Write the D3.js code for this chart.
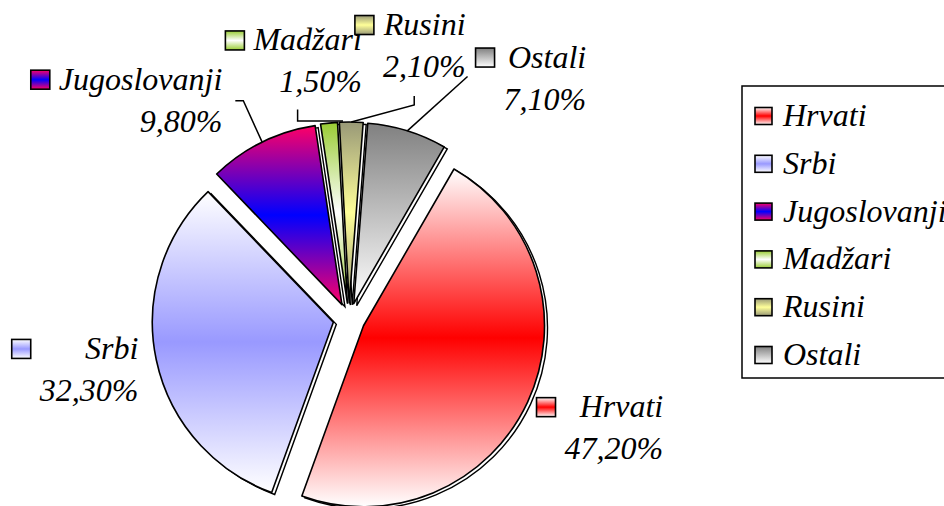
<!DOCTYPE html>
<html>
<head>
<meta charset="utf-8">
<script src="https://cdn.jsdelivr.net/npm/d3@7"></script>
<style>
  html, body { margin: 0; padding: 0; background: #fff; }
  svg { display: block; }
</style>
</head>
<body>
<div id="chart"></div>
<script>
const categories = ["Hrvati", "Srbi", "Jugoslovanji", "Madžari", "Rusini", "Ostali"];
const shares = [47.2, 32.3, 9.8, 1.5, 2.1, 7.1];

// gradient stops for each slice, top to bottom
const fills = [
  ["#ffffff", "#ff0000", "#ffffff"],
  ["#ffffff", "#9999ff", "#ffffff"],
  ["#ff0066", "#0000ff", "#ff0066"],
  ["#99cc33", "#ffffff", "#99cc33"],
  ["#999977", "#ffff99", "#999977"],
  ["#808080", "#ffffff"]
];

// labels were dragged by hand in the original, so nudge them
const labelNudge = [[-3, -9], [0, -7], [-99, 33], [-27, 21], [58, 7], [99, 27]];
const leaderType = [null, null, "side", "down", "downdiag", "left"];

const width = 944, height = 506;
const cx = 349, cy = 319, radius = 181, explode = 16;
const startAngle = 30 * Math.PI / 180;
const fontFamily = '"Liberation Serif", "Times New Roman", Tinos, serif';

const fmt = v => d3.format(".2f")(v).replace(".", ",") + "%";
const dir = a => [Math.sin(a), -Math.cos(a)];

const svg = d3.select("#chart").append("svg")
    .attr("width", width)
    .attr("height", height);

svg.append("rect").attr("width", width).attr("height", height).attr("fill", "#fff");

const styleText = sel => sel
    .style("font-family", fontFamily)
    .style("font-style", "italic")
    .style("font-size", "32px")
    .attr("fill", "#000");

const defs = svg.append("defs");
fills.forEach((stops, i) => {
  const g = defs.append("linearGradient")
      .attr("id", "g" + i)
      .attr("x1", 0).attr("y1", 0).attr("x2", 0).attr("y2", 1);
  stops.forEach((c, j) => {
    g.append("stop")
        .attr("offset", (j / (stops.length - 1) * 100) + "%")
        .attr("stop-color", c);
  });
});

const pie = d3.pie().sort(null).value(d => d)
    .startAngle(startAngle).endAngle(startAngle + 2 * Math.PI);
const arcs = pie(shares);
const arc = d3.arc().innerRadius(0).outerRadius(radius);
const mid = d => (d.startAngle + d.endAngle) / 2;

const pieG = svg.append("g").attr("transform", `translate(${cx},${cy})`);

// shadow outlines first
pieG.append("g").selectAll("path")
  .data(arcs)
  .join("path")
    .attr("transform", d => {
      const [dx, dy] = dir(mid(d));
      return `translate(${dx * explode + 3},${dy * explode + 2})`;
    })
    .attr("d", arc)
    .attr("fill", "none")
    .attr("stroke", "#000")
    .attr("stroke-width", 1.4);

pieG.append("g").selectAll("path")
  .data(arcs)
  .join("path")
    .attr("transform", d => {
      const [dx, dy] = dir(mid(d));
      return `translate(${dx * explode},${dy * explode})`;
    })
    .attr("d", arc)
    .attr("fill", (d, i) => `url(#g${i})`)
    .attr("stroke", "#000")
    .attr("stroke-width", 1.6)
    .attr("stroke-linejoin", "round");

// data labels
const labels = svg.append("g");
arcs.forEach((d, i) => {
  const [dx, dy] = dir(mid(d));
  const ccx = cx + dx * 280 + labelNudge[i][0];
  const ccy = cy + dy * 280 + labelNudge[i][1];
  const g = labels.append("g");
  const t1 = g.append("text").attr("text-anchor", "end").call(styleText).text(categories[i]);
  const t2 = g.append("text").attr("text-anchor", "end").call(styleText).text(fmt(shares[i]));
  const maxW = Math.max(t1.node().getComputedTextLength(), t2.node().getComputedTextLength());
  const blockW = 28 + maxW;
  const right = ccx + blockW / 2, left = right - blockW;
  const b1 = ccy - 11, b2 = ccy + 31;
  t1.attr("x", right).attr("y", b1);
  t2.attr("x", right).attr("y", b2);
  g.insert("rect", "text")
      .attr("x", left).attr("y", b1 - 19.5)
      .attr("width", 19).attr("height", 19)
      .attr("fill", `url(#g${i})`)
      .attr("stroke", "#000")
      .attr("stroke-width", 1.6);

  const end = [cx + dx * (radius + explode), cy + dy * (radius + explode)];
  let pts = null;
  if (leaderType[i] === "side") {
    pts = [[right + 13, ccy], [right + 21, ccy], end];
  } else if (leaderType[i] === "down") {
    pts = [[ccx + 4, b2 + 17], [ccx + 4, end[1] - 2], [end[0] + 14, end[1] - 2]];
  } else if (leaderType[i] === "downdiag") {
    pts = [[ccx + 4, b2 + 19], [ccx + 4, b2 + 28], end];
  } else if (leaderType[i] === "left") {
    pts = [[left - 8, ccy - 2], end];
  }
  if (pts) {
    svg.append("path")
        .attr("d", d3.line()(pts))
        .attr("fill", "none")
        .attr("stroke", "#000")
        .attr("stroke-width", 1.5);
  }
});

// legend
const legend = svg.append("g");
legend.append("rect")
    .attr("x", 742).attr("y", 86)
    .attr("width", 240).attr("height", 292)
    .attr("fill", "#fff")
    .attr("stroke", "#000")
    .attr("stroke-width", 1.5);

const row = d3.scalePoint().domain(categories).range([116, 355]);
const item = legend.selectAll("g.item")
  .data(categories)
  .join("g")
    .attr("class", "item")
    .attr("transform", d => `translate(0,${row(d)})`);
item.append("rect")
    .attr("x", 755).attr("y", -8.5)
    .attr("width", 17).attr("height", 17)
    .attr("fill", (d, i) => `url(#g${i})`)
    .attr("stroke", "#000")
    .attr("stroke-width", 1.6);
item.append("text")
    .attr("x", 783).attr("y", 10)
    .call(styleText)
    .text(d => d);
</script>
</body>
</html>
